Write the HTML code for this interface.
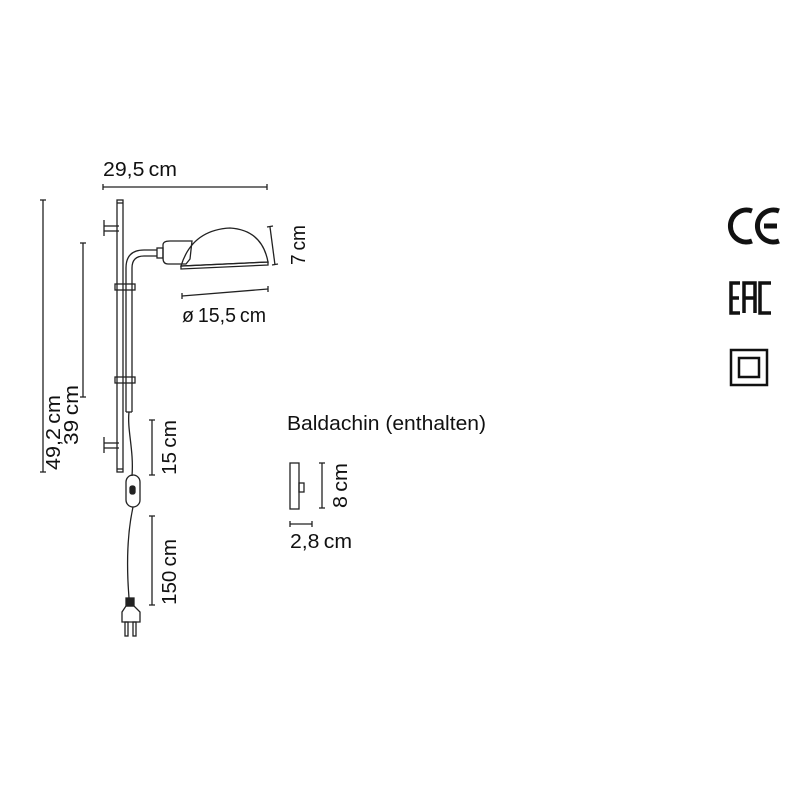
<!DOCTYPE html>
<html><head><meta charset="utf-8"><style>
html,body{margin:0;padding:0;background:#fff;}
svg{display:block;}
text{font-family:"Liberation Sans",sans-serif;fill:#111;font-size:20px;}
</style></head><body>
<svg width="800" height="800" viewBox="0 0 800 800" xmlns="http://www.w3.org/2000/svg">
<g stroke="#222" stroke-width="1.3" fill="none">
<line x1="103" y1="187" x2="267" y2="187"/>
<line x1="103" y1="184" x2="103" y2="190"/><line x1="267" y1="184" x2="267" y2="190"/>
<line x1="43" y1="200" x2="43" y2="472"/><line x1="40" y1="200" x2="46" y2="200"/><line x1="40" y1="472" x2="46" y2="472"/>
<line x1="83" y1="243" x2="83" y2="397"/><line x1="80" y1="243" x2="86" y2="243"/><line x1="80" y1="397" x2="86" y2="397"/>
<line x1="152" y1="420" x2="152" y2="475"/><line x1="149" y1="420" x2="155" y2="420"/><line x1="149" y1="475" x2="155" y2="475"/>
<line x1="152" y1="516" x2="152" y2="605"/><line x1="149" y1="516" x2="155" y2="516"/><line x1="149" y1="605" x2="155" y2="605"/>
<rect x="117" y="200" width="6" height="272"/>
<line x1="117" y1="203" x2="123" y2="203"/><line x1="117" y1="469" x2="123" y2="469"/>
<line x1="104" y1="220" x2="104" y2="236"/><line x1="104" y1="226" x2="119" y2="226"/><line x1="104" y1="231" x2="119" y2="231"/>
<line x1="104" y1="437" x2="104" y2="453"/><line x1="104" y1="443" x2="119" y2="443"/><line x1="104" y1="448" x2="119" y2="448"/>
<path d="M126 412 L126 268 Q126 250 144 250 L157 250"/>
<path d="M132 412 L132 268 Q132 256 144 256 L157 256"/>
<line x1="126" y1="412" x2="132" y2="412"/>
<rect x="157" y="248" width="6" height="10"/>
<path d="M163 245 Q163 241 170 241 L192 241 L190 259 L186 264 L168 264 Q163 264 163 258 Z"/>
<path d="M181 266 Q192 230 230 228 Q262 230 268 262 Z" />
<path d="M181 266 L268 262 L268 265 L181 269 Z"/>
<rect x="115" y="284" width="20" height="6"/>
<rect x="115" y="377" width="20" height="6"/>
<line x1="270" y1="227" x2="275" y2="265"/><line x1="267" y1="227" x2="273" y2="226"/><line x1="272" y1="265" x2="278" y2="264"/>
<line x1="182" y1="296" x2="268" y2="289"/><line x1="182" y1="293" x2="182" y2="299"/><line x1="268" y1="286" x2="268" y2="292"/>
<path d="M129 412 C127 430 134 450 132 476"/>
<rect x="126" y="475" width="14" height="32" rx="7"/>
<rect x="130" y="486" width="5" height="8" rx="2" fill="#222"/>
<path d="M133 507 C128 530 126 560 129 598"/>
<rect x="126" y="598" width="8" height="8" fill="#222"/>
<path d="M122 612 L126 606 L134 606 L140 612 L140 622 L122 622 Z"/>
<rect x="125" y="622" width="3" height="14"/><rect x="133" y="622" width="3" height="14"/>
<rect x="290" y="463" width="9" height="46"/>
<rect x="299" y="483" width="5" height="9"/>
<line x1="322" y1="463" x2="322" y2="508"/><line x1="319" y1="463" x2="325" y2="463"/><line x1="319" y1="508" x2="325" y2="508"/>
<line x1="290" y1="524" x2="312" y2="524"/><line x1="290" y1="521" x2="290" y2="527"/><line x1="312" y1="521" x2="312" y2="527"/>
</g>
<g lengthAdjust="spacingAndGlyphs">
<text x="103" y="176" textLength="74" lengthAdjust="spacingAndGlyphs">29,5&#8201;cm</text>
<text x="182" y="322" textLength="84" lengthAdjust="spacingAndGlyphs">ø&#8201;15,5&#8201;cm</text>
<text transform="translate(305,265) rotate(-90)" textLength="40" lengthAdjust="spacingAndGlyphs">7&#8201;cm</text>
<text transform="translate(60,470) rotate(-90)" textLength="75" lengthAdjust="spacingAndGlyphs">49,2&#8201;cm</text>
<text transform="translate(78,445) rotate(-90)" textLength="60" lengthAdjust="spacingAndGlyphs">39&#8201;cm</text>
<text transform="translate(176,475) rotate(-90)" textLength="55" lengthAdjust="spacingAndGlyphs">15&#8201;cm</text>
<text transform="translate(176,605) rotate(-90)" textLength="66" lengthAdjust="spacingAndGlyphs">150&#8201;cm</text>
<text x="287" y="430" textLength="199" lengthAdjust="spacingAndGlyphs">Baldachin (enthalten)</text>
<text transform="translate(347,508) rotate(-90)" textLength="45" lengthAdjust="spacingAndGlyphs">8&#8201;cm</text>
<text x="290" y="548" textLength="62" lengthAdjust="spacingAndGlyphs">2,8&#8201;cm</text>
</g>
<g stroke="#111" stroke-width="5" fill="none">
<path d="M752 211 A16 16 0 1 0 752 241"/>
<path d="M779 211 A16 16 0 1 0 779 241"/>
<line x1="764" y1="226" x2="777" y2="226"/>
</g>
<g stroke="#111" stroke-width="3.5" fill="none">
<path d="M740 283 L731 283 L731 313 L740 313 M731 298 L739 298"/>
<path d="M744 313 L744 283 L755 283 L755 313 M744 298 L755 298"/>
<path d="M771 283 L760 283 L760 313 L771 313"/>
</g>
<rect x="731" y="350" width="36" height="35" fill="none" stroke="#111" stroke-width="2.5"/>
<rect x="739" y="358" width="20" height="19" fill="none" stroke="#111" stroke-width="2.5"/>
</svg>
</body></html>
